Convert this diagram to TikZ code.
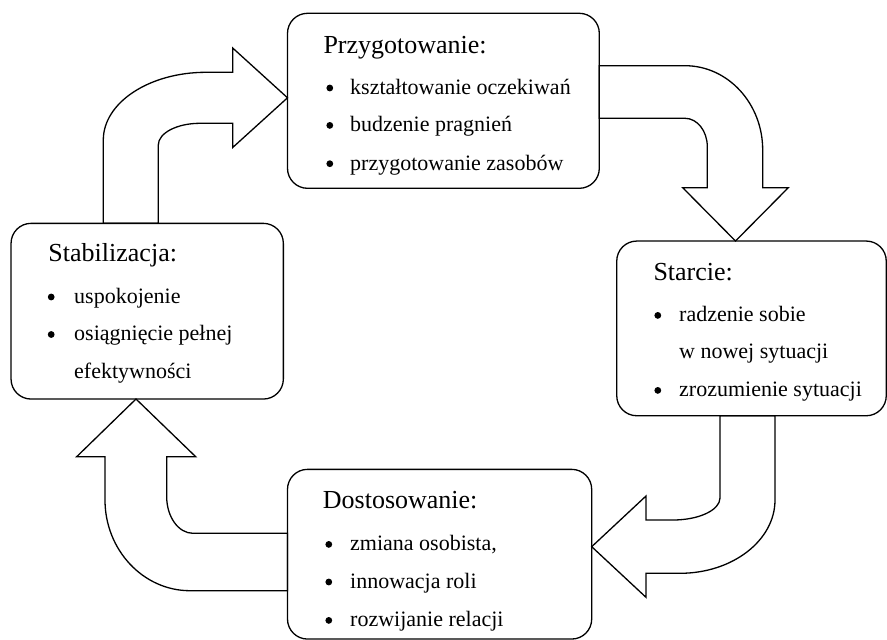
\documentclass[tikz,border=0pt]{standalone}
\usepackage{fontspec}
\setmainfont{Liberation Serif}
\begin{document}
\begin{tikzpicture}[x=1pt,y=-1pt,
  stage/.style={draw, line width=1.3pt, rounded corners=20pt, inner sep=0pt, outer sep=0pt},
  heading/.style={anchor=base west, inner sep=0pt, font=\fontsize{26}{30}\selectfont},
  item/.style={anchor=base west, inner sep=0pt, font=\fontsize{22}{26}\selectfont},
  dot/.style={circle, fill=black, inner sep=0pt, minimum size=6.8pt},
  bigarrow/.style={draw, fill=white, line width=1.3pt, line join=miter}]
\useasboundingbox (0,0) rectangle (887,640);

% block arrows
\draw[bigarrow] (103.3,223.3) -- (103.3,140) .. controls (103.3,102.6) and (149.3,72.3) .. (206,72.3)
  -- (232.7,72.3) -- (232.7,48) -- (287.5,97.8) -- (232.7,147.5) -- (232.7,123.3) -- (200,123.3)
  .. controls (177,123.3) and (158.3,133) .. (158.3,145) -- (158.3,223.3) -- cycle;
\draw[bigarrow] (599.3,65.7) -- (685,65.7) .. controls (727.9,65.7) and (762.7,103.5) .. (762.7,150)
  -- (762.7,187.7) -- (788.3,187.7) -- (735.5,241) -- (682.7,187.7) -- (707.3,187.7) -- (707.3,146.7)
  .. controls (707.3,131) and (697.3,118.3) .. (685,118.3) -- (599.3,118.3) -- cycle;
\draw[bigarrow] (775,415.7) -- (775,500) .. controls (775,540.5) and (732.4,573.3) .. (680,573.3)
  -- (646,573.3) -- (646,597.3) -- (591.7,546.7) -- (646,496) -- (646,520) -- (673,520)
  .. controls (699,520) and (720,510) .. (720,498) -- (720,415.7) -- cycle;
\draw[bigarrow] (287.5,590.7) -- (190,590.7) .. controls (143,590.7) and (105,549.7) .. (105,500)
  -- (105,456.7) -- (76.7,456.7) -- (136,399) -- (195.7,456.7) -- (166.7,456.7) -- (166.7,496.7)
  .. controls (166.7,516.9) and (178.5,533.3) .. (193,533.3) -- (287.5,533.3) -- cycle;

% stage boxes
\node[stage, minimum width=311.8pt, minimum height=175pt] (prep) at (443.4,100.8) {};
\node[stage, minimum width=272.3pt, minimum height=175.7pt] (stab) at (147.2,311.2) {};
\node[stage, minimum width=269.5pt, minimum height=174.7pt] (clash) at (751.5,328.4) {};
\node[stage, minimum width=304.2pt, minimum height=169.7pt] (adapt) at (439.6,554.2) {};

% Przygotowanie
\node[heading] (prepT) at (323.3,53.3) {Przygotowanie:};
\node[dot] (prepB1) at (329.8,88) {};
\node[item] (prepI1) at (350,94.3) {kształtowanie oczekiwań};
\node[dot] (prepB2) at (329.8,125.4) {};
\node[item] (prepI2) at (350,131.7) {budzenie pragnień};
\node[dot] (prepB3) at (329.8,163.7) {};
\node[item] (prepI3) at (350,170) {przygotowanie zasobów};

% Starcie
\node[heading] (clashT) at (653.3,280) {Starcie:};
\node[dot] (clashB1) at (657.8,315.4) {};
\node[item] (clashI1) at (679,321.7) {radzenie sobie};
\node[item] (clashI1b) at (679,358.3) {w nowej sytuacji};
\node[dot] (clashB2) at (657.8,390.4) {};
\node[item] (clashI2) at (679,396.7) {zrozumienie sytuacji};

% Stabilizacja
\node[heading] (stabT) at (48.3,261.7) {Stabilizacja:};
\node[dot] (stabB1) at (51.2,297) {};
\node[item] (stabI1) at (74,303.3) {uspokojenie};
\node[dot] (stabB2) at (51.2,334.5) {};
\node[item] (stabI2) at (74,340.8) {osiągnięcie pełnej};
\node[item] (stabI2b) at (74,378.3) {efektywności};

% Dostosowanie
\node[heading] (adaptT) at (322.7,508.3) {Dostosowanie:};
\node[dot] (adaptB1) at (328.8,544.4) {};
\node[item] (adaptI1) at (350,550.7) {zmiana osobista,};
\node[dot] (adaptB2) at (328.8,582) {};
\node[item] (adaptI2) at (350,588.3) {innowacja roli};
\node[dot] (adaptB3) at (328.8,620.4) {};
\node[item] (adaptI3) at (350,626.7) {rozwijanie relacji};
\end{tikzpicture}
\end{document}
